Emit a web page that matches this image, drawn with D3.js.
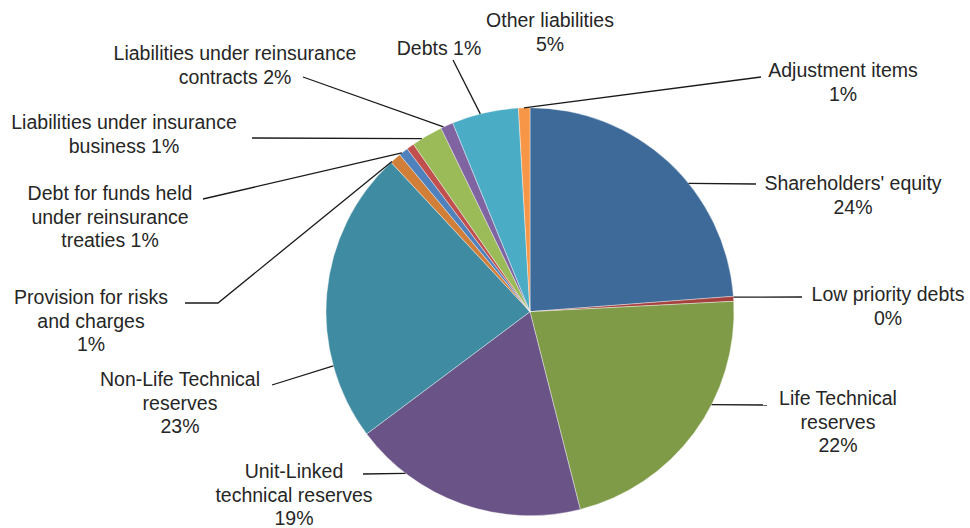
<!DOCTYPE html>
<html>
<head>
<meta charset="utf-8">
<script src="https://cdn.jsdelivr.net/npm/d3@7"></script>
<style>
  body { margin: 0; background: #fff; }
  svg { display: block; }
  text { font-family: "Liberation Sans", Arial, sans-serif; font-size: 19.5px; fill: #262626; }
</style>
</head>
<body>
<div id="chart"></div>
<script>
// data (clockwise from 12 o'clock)
const categories = ["Shareholders' equity", "Low priority debts", "Life Technical reserves",
  "Unit-Linked technical reserves", "Non-Life Technical reserves", "Provision for risks and charges",
  "Debt for funds held under reinsurance treaties", "Liabilities under insurance business",
  "Liabilities under reinsurance contracts", "Debts", "Other liabilities", "Adjustment items"];
const values = [23.75, 0.39, 21.8, 18.7, 23.25, 0.9, 0.74, 0.6, 2.49, 1.0, 5.27, 0.9];
const colors = ["#3d6a99", "#a4403d", "#7f9b48", "#6a5386", "#3f8ba2", "#d07e38",
  "#4f81bd", "#c0504d", "#9bbb59", "#8064a2", "#4bacc6", "#f79646"];

// label wrapping, {p} = percentage
const labelText = ["Shareholders' equity|{p}", "Low priority debts|{p}", "Life Technical|reserves|{p}",
  "Unit-Linked|technical reserves|{p}", "Non-Life Technical|reserves|{p}", "Provision for risks|and charges|{p}",
  "Debt for funds held|under reinsurance|treaties {p}", "Liabilities under insurance|business {p}",
  "Liabilities under reinsurance|contracts {p}", "Debts {p}", "Other liabilities|{p}", "Adjustment items|{p}"];

// label placement: centre x, first baseline y
const labelPos = [[853, 190], [888, 301], [838, 405], [294, 478], [180, 386], [91, 304],
  [110, 200], [124, 129], [235, 60], [439, 55], [550, 27], [843, 77]];

// leader lines: angle on the rim (deg) then points towards the label
const leaders = [
  { a: 51, pts: [[756, 184]] },
  { a: 85.9, pts: [[802, 297]] },
  { a: 117.1, pts: [[767, 405]] },
  { a: 217.6, pts: [[363, 474]] },
  { a: 254.6, pts: [[272, 385]] },
  { a: 317.4, pts: [[218, 303], [185, 303]] },
  { a: 321.1, pts: [[203, 199]] },
  { a: 328, pts: [[252, 138]] },
  { a: 334.9, pts: [[303, 77]] },
  { a: 345.9, pts: [[453, 60]] },
  null,
  { a: 358.3, pts: [[761, 77]] }
];

const width = 970, height = 528;
const cx = 530, cy = 311.7, radius = 204;

const svg = d3.select("#chart")
  .append("svg")
  .attr("width", width)
  .attr("height", height);

const total = d3.sum(values);
const pct = d3.format(".0%");

const pie = d3.pie().sort(null).value(d => d);
const arc = d3.arc().innerRadius(0).outerRadius(radius);

svg.append("g")
  .attr("transform", `translate(${cx},${cy})`)
  .selectAll("path")
  .data(pie(values))
  .join("path")
  .attr("d", arc)
  .attr("fill", (d, i) => colors[i])
  .attr("stroke", "#fff")
  .attr("stroke-width", 0.4);

// leader lines
const rim = a => {
  const r = a * Math.PI / 180;
  return [cx + radius * Math.sin(r), cy - radius * Math.cos(r)];
};

svg.append("g")
  .selectAll("path")
  .data(leaders.filter(d => d))
  .join("path")
  .attr("d", d => d3.line()([rim(d.a), ...d.pts]))
  .attr("fill", "none")
  .attr("stroke", "#1a1a1a")
  .attr("stroke-width", 1.3);

// labels
const labels = svg.append("g")
  .selectAll("text")
  .data(categories)
  .join("text")
  .attr("text-anchor", "middle")
  .attr("x", (d, i) => labelPos[i][0])
  .attr("y", (d, i) => labelPos[i][1]);

labels.each(function (d, i) {
  const lines = labelText[i].replace("{p}", pct(values[i] / total)).split("|");
  d3.select(this).selectAll("tspan")
    .data(lines)
    .join("tspan")
    .attr("x", labelPos[i][0])
    .attr("dy", (l, j) => j === 0 ? 0 : 23.5)
    .text(l => l);
});
</script>
</body>
</html>
